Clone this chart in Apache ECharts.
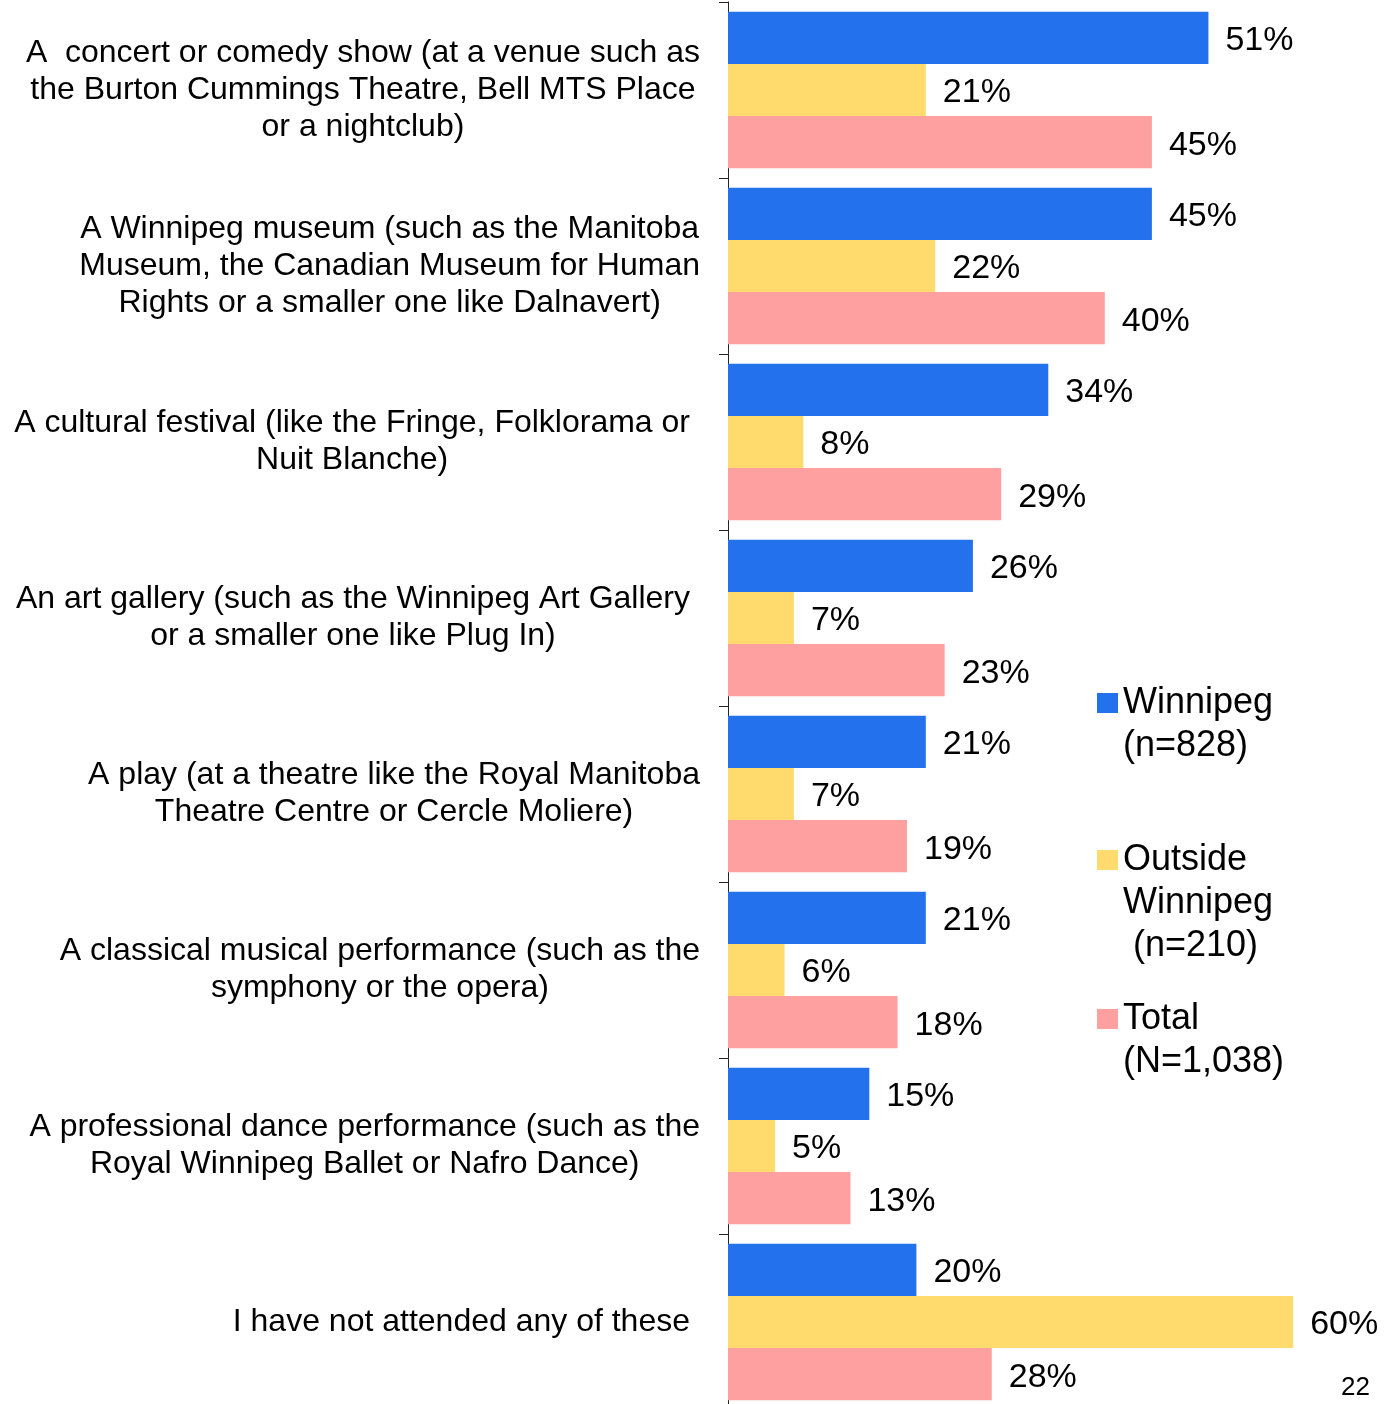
<!DOCTYPE html>
<html>
<head>
<meta charset="utf-8">
<script src="https://cdn.jsdelivr.net/npm/echarts@6/dist/echarts.min.js"></script>
<style>
  html, body { margin: 0; padding: 0; background: #fff; overflow: hidden; }
  #main { width: 1384px; height: 1412px; }
</style>
</head>
<body>
<div id="main"></div>
<script>
// categories, top to bottom
const categories = [
  'A  concert or comedy show (at a venue such as\nthe Burton Cummings Theatre, Bell MTS Place\nor a nightclub)',
  'A Winnipeg museum (such as the Manitoba\nMuseum, the Canadian Museum for Human\nRights or a smaller one like Dalnavert)',
  'A cultural festival (like the Fringe, Folklorama or\nNuit Blanche)',
  'An art gallery (such as the Winnipeg Art Gallery\nor a smaller one like Plug In)',
  'A play (at a theatre like the Royal Manitoba\nTheatre Centre or Cercle Moliere)',
  'A classical musical performance (such as the\nsymphony or the opera)',
  'A professional dance performance (such as the\nRoyal Winnipeg Ballet or Nafro Dance)',
  'I have not attended any of these'
];
const winnipeg = [51, 45, 34, 26, 21, 21, 15, 20];
const outside = [21, 22, 8, 7, 7, 6, 5, 60];
const total = [45, 40, 29, 23, 19, 18, 13, 28];

const seriesNames = ['Winnipeg\n(n=828)', 'Outside\nWinnipeg\n (n=210)', 'Total\n(N=1,038)'];
const colors = ['#2471ed', '#ffdb6e', '#ffa0a0'];

// labels whose block sits a bit further left
const shiftedLabels = [2, 3, 7];

const FONT = '"Liberation Sans", Arial, sans-serif';
const LEG_LH = 43;
const PX_PER_PCT = 9.42;
const X_MAX = 65;

// one legend per series so the icon lines up with the first text line
function legendFor(name, firstLineY) {
  const n = name.split('\n').length;
  const h = LEG_LH * (2 * n - 1);
  return {
    data: [name],
    left: 1097,
    top: firstLineY - h / 2,
    padding: 0,
    itemWidth: 21,
    itemHeight: 20,
    icon: 'rect',
    selectedMode: false,
    formatter: function (nm) {
      return '\n'.repeat(n - 1) + nm;
    },
    textStyle: {
      fontFamily: FONT,
      fontSize: 36,
      lineHeight: LEG_LH,
      color: '#000'
    }
  };
}

function barSeries(name, data, color) {
  return {
    name: name,
    type: 'bar',
    data: data,
    barGap: '0%',
    barCategoryGap: '11%',
    itemStyle: { color: color },
    label: {
      show: true,
      position: 'right',
      distance: 17,
      offset: [0, 3],
      formatter: '{c}%',
      fontFamily: FONT,
      fontSize: 34,
      color: '#000'
    }
  };
}

const chart = echarts.init(document.getElementById('main'));
chart.setOption({
  animation: false,
  backgroundColor: '#fff',
  title: {
    text: '22',
    right: 9,
    bottom: 6,
    textStyle: { fontFamily: FONT, fontSize: 26, fontWeight: 'normal', color: '#000' }
  },
  grid: { left: 728, top: 2, width: X_MAX * PX_PER_PCT, height: 8 * 176, containLabel: false },
  xAxis: {
    type: 'value',
    min: 0,
    max: X_MAX,
    show: false
  },
  yAxis: {
    type: 'category',
    inverse: true,
    data: categories,
    axisLine: { show: true, lineStyle: { color: '#222', width: 1 } },
    axisTick: { show: true, length: 9, lineStyle: { color: '#222' } },
    axisLabel: {
      margin: 28,
      align: 'right',
      formatter: function (value, idx) {
        const key = shiftedLabels.indexOf(idx) >= 0 ? 'd' : 'c';
        return value.split('\n').map(function (l) { return '{' + key + '|' + l + '}'; }).join('\n');
      },
      rich: {
        c: { align: 'center', fontFamily: FONT, fontSize: 32, lineHeight: 37, color: '#000' },
        d: { align: 'center', fontFamily: FONT, fontSize: 32, lineHeight: 37, color: '#000', padding: [0, 10, 0, 0] }
      }
    }
  },
  legend: [
    legendFor(seriesNames[0], 703),
    legendFor(seriesNames[1], 860),
    legendFor(seriesNames[2], 1019)
  ],
  series: [
    barSeries(seriesNames[0], winnipeg, colors[0]),
    barSeries(seriesNames[1], outside, colors[1]),
    barSeries(seriesNames[2], total, colors[2])
  ]
});
</script>
</body>
</html>
